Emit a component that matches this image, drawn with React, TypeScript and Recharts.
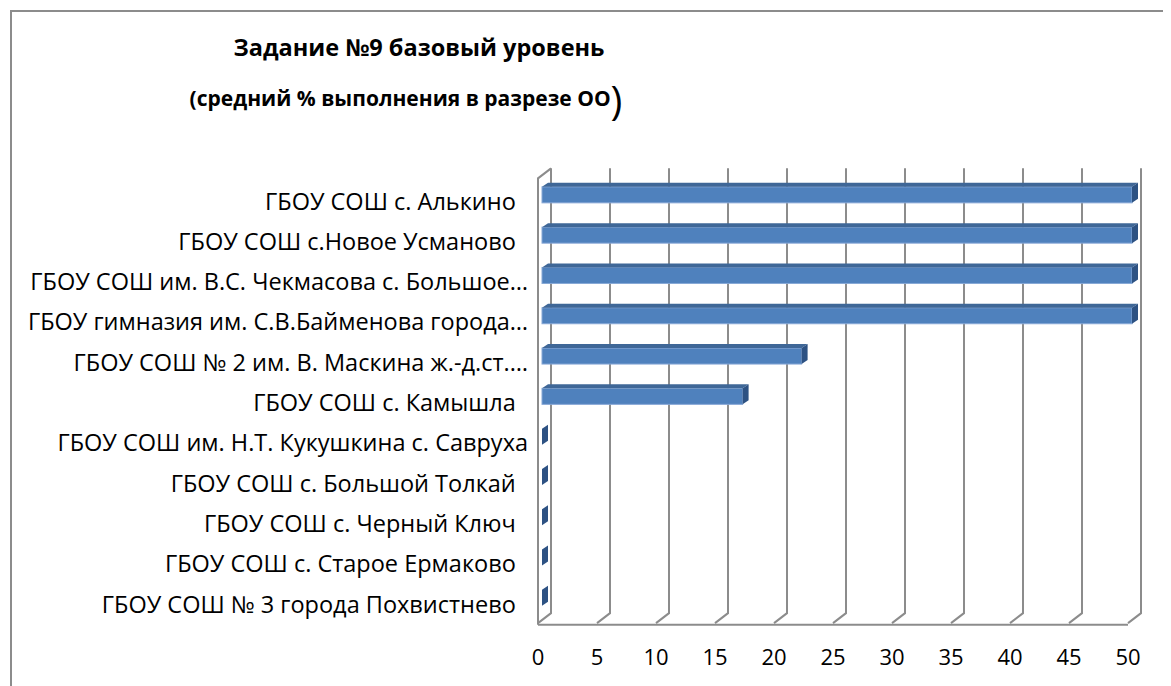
import React from 'react'
import { BarChart, Bar, XAxis, YAxis, CartesianGrid } from 'recharts'

const CATEGORIES = [
  'ГБОУ СОШ с. Алькино  ',
  'ГБОУ СОШ с.Новое Усманово  ',
  'ГБОУ СОШ им. В.С. Чекмасова с. Большое…',
  'ГБОУ гимназия им. С.В.Байменова города…',
  'ГБОУ СОШ № 2 им. В. Маскина ж.-д.ст.…',
  'ГБОУ СОШ с. Камышла  ',
  'ГБОУ СОШ им. Н.Т. Кукушкина с. Савруха',
  'ГБОУ СОШ с. Большой Толкай  ',
  'ГБОУ СОШ с. Черный Ключ  ',
  'ГБОУ СОШ с. Старое Ермаково  ',
  'ГБОУ СОШ № 3 города Похвистнево  ',
]
const VALUES = [50, 50, 50, 50, 22, 17, 0, 0, 0, 0, 0]
const X_TICKS = [0, 5, 10, 15, 20, 25, 30, 35, 40, 45, 50]

const TITLE_1 = 'Задание №9 базовый уровень'
const TITLE_2 = '(средний % выполнения в разрезе ОО'

const FONT = '"Open Sans", "Noto Sans", sans-serif'
const GRID = '#8c8c8c'
// depth of the back wall and of each bar
const WALL_DX = 13
const WALL_DY = 10
const BAR_DX = 6
const BAR_DY = 4

const chartData = CATEGORIES.map((name, i) => ({ name, value: VALUES[i] }))

function Bar3D(props: any) {
  const { x, y, width, height } = props
  const fx = x + 4
  const fy = y - 6.5
  const w = Math.max(width, 0)
  const h = height
  return (
    <g>
      <rect x={fx} y={fy} width={w} height={h} fill="#4f81bd" stroke="#86a7d6" strokeWidth={w > 0 ? 1 : 0} />
      <polygon
        points={`${fx},${fy} ${fx + w},${fy} ${fx + w + BAR_DX},${fy - BAR_DY} ${fx + BAR_DX},${fy - BAR_DY}`}
        fill="#3f6797"
      />
      <polygon
        points={`${fx + w},${fy} ${fx + w + BAR_DX},${fy - BAR_DY} ${fx + w + BAR_DX},${fy + h - BAR_DY} ${fx + w},${fy + h}`}
        fill="#2d5283"
      />
    </g>
  )
}

function GridLine3D(props: any) {
  const { x1, y1, y2, index } = props
  const x = x1
  const pts = `${x + WALL_DX},${y1 - 13} ${x + WALL_DX},${y2 - 11.5} ${x},${y2 - 1.5}`
  return (
    <g key={props.key}>
      <polyline points={pts} fill="none" stroke={GRID} strokeWidth={2} />
      {index === 0 && (
        <polyline
          points={`${x},${y2} ${x},${y1 - 3} ${x + WALL_DX},${y1 - 3 - WALL_DY}`}
          fill="none"
          stroke={GRID}
          strokeWidth={2}
        />
      )}
    </g>
  )
}

function XTick(props: any) {
  const { x, y, payload } = props
  return (
    <text x={x} y={y + 32} textAnchor="middle" fontSize={22} fontFamily={FONT} fill="#000">
      {payload.value}
    </text>
  )
}

function YTick(props: any) {
  const { y, payload } = props
  return (
    <text x={520} y={y} dy={8} textAnchor="end" fontSize={23.5} fontFamily={FONT} fill="#000" style={{ whiteSpace: 'pre' }}>
      {payload.value}
    </text>
  )
}

export default function App() {
  return (
    <div style={{ position: 'relative', width: 1163, height: 678, fontFamily: FONT }}>
      <div
        style={{
          position: 'absolute',
          left: 2,
          top: 2,
          width: 1200,
          height: 720,
          border: `2px solid ${GRID}`,
          boxSizing: 'border-box',
        }}
      />
      <div
        style={{
          position: 'absolute',
          left: 0,
          top: 22,
          width: 822,
          textAlign: 'center',
          fontWeight: 700,
          fontSize: 23.5,
          lineHeight: '34px',
          color: '#000',
        }}
      >
        {TITLE_1}
      </div>
      <div
        style={{
          position: 'absolute',
          left: 0,
          top: 68,
          width: 796,
          textAlign: 'center',
          fontWeight: 700,
          fontSize: 21,
          lineHeight: '44px',
          color: '#000',
        }}
      >
        {TITLE_2}
        <span style={{ fontSize: 40, fontWeight: 400, verticalAlign: 'middle' }}>)</span>
      </div>
      <div style={{ position: 'absolute', left: 0, top: 0 }}>
        <BarChart
          width={1163}
          height={678}
          data={chartData}
          layout="vertical"
          barCategoryGap={0}
          margin={{ top: 173.35, right: 43, bottom: 0, left: 0 }}
        >
          <CartesianGrid horizontal={false} vertical={(p: any) => <GridLine3D {...p} />} />
          <XAxis
            type="number"
            domain={[0, 50]}
            ticks={X_TICKS}
            tick={<XTick />}
            tickLine={false}
            axisLine={{ stroke: GRID, strokeWidth: 2 }}
            interval={0}
            height={61.35}
          />
          <YAxis
            type="category"
            dataKey="name"
            width={530}
            tick={<YTick />}
            tickLine={false}
            axisLine={false}
            interval={0}
          />
          <Bar dataKey="value" barSize={16} shape={<Bar3D />} isAnimationActive={false} />
        </BarChart>
      </div>
    </div>
  )
}
